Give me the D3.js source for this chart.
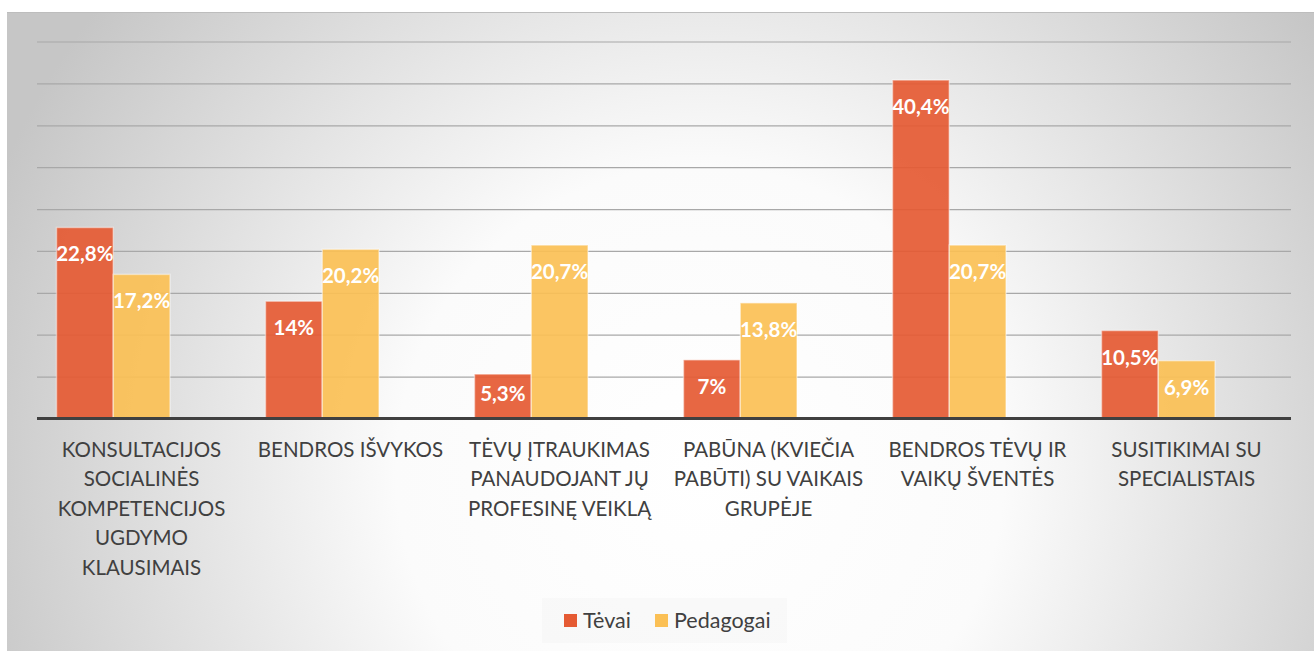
<!DOCTYPE html>
<html>
<head>
<meta charset="utf-8">
<script src="https://cdn.jsdelivr.net/npm/d3@7"></script>
<style>
  body { margin: 0; background: #fff; }
  svg { display: block; }
</style>
</head>
<body>
<div id="chart"></div>
<script>
// Data
const categories = [
  "KONSULTACIJOS\nSOCIALINĖS\nKOMPETENCIJOS\nUGDYMO\nKLAUSIMAIS",
  "BENDROS IŠVYKOS",
  "TĖVŲ ĮTRAUKIMAS\nPANAUDOJANT JŲ\nPROFESINĘ VEIKLĄ",
  "PABŪNA (KVIEČIA\nPABŪTI) SU VAIKAIS\nGRUPĖJE",
  "BENDROS TĖVŲ IR\nVAIKŲ ŠVENTĖS",
  "SUSITIKIMAI SU\nSPECIALISTAIS"
];
const seriesNames = ["Tėvai", "Pedagogai"];
const tevai = [22.8, 14, 5.3, 7, 40.4, 10.5];
const pedagogai = [17.2, 20.2, 20.7, 13.8, 20.7, 6.9];
const valueLabels = {
  "Tėvai": ["22,8%", "14%", "5,3%", "7%", "40,4%", "10,5%"],
  "Pedagogai": ["17,2%", "20,2%", "20,7%", "13,8%", "20,7%", "6,9%"]
};
const colors = ["#E55A33", "#FBC055"];

const W = 1314, H = 651;
const plot = { left: 37, right: 1291, top: 41.5, bottom: 418.5 };

const svg = d3.select("#chart").append("svg")
  .attr("width", W)
  .attr("height", H);

// background gradient
const defs = svg.append("defs");
const grad = defs.append("radialGradient")
  .attr("id", "bg")
  .attr("gradientUnits", "userSpaceOnUse")
  .attr("cx", 700).attr("cy", 470).attr("r", 760);
grad.append("stop").attr("offset", 0).attr("stop-color", "#ffffff");
grad.append("stop").attr("offset", 0.4).attr("stop-color", "#fbfbfb");
grad.append("stop").attr("offset", 1).attr("stop-color", "#c6c6c6");

svg.append("rect")
  .attr("x", 7).attr("y", 12)
  .attr("width", W - 7).attr("height", H - 12)
  .attr("fill", "url(#bg)");
svg.append("line")
  .attr("x1", 7).attr("x2", W).attr("y1", 12.5).attr("y2", 12.5)
  .attr("stroke", "#bdbdbd").attr("stroke-width", 1);

// scales
const x0 = d3.scaleBand()
  .domain(d3.range(categories.length))
  .range([plot.left, plot.right]);

const x1 = d3.scaleBand()
  .domain(seriesNames)
  .range([19.5, 133]);

const y = d3.scaleLinear()
  .domain([0, 45])
  .range([plot.bottom, plot.top]);

// gridlines
svg.append("g")
  .attr("transform", `translate(${plot.left},0)`)
  .call(d3.axisLeft(y).tickValues(d3.range(5, 46, 5)).tickSize(-(plot.right - plot.left)).tickFormat(""))
  .call(g => g.select(".domain").remove())
  .call(g => g.selectAll("line").attr("stroke", "#a8a8a8").attr("stroke-width", 1.2));

// bars
const rows = categories.map((c, i) => ({
  i: i,
  values: [
    { key: "Tėvai", v: tevai[i], label: valueLabels["Tėvai"][i] },
    { key: "Pedagogai", v: pedagogai[i], label: valueLabels["Pedagogai"][i] }
  ]
}));

const groups = svg.append("g").selectAll("g")
  .data(rows)
  .join("g")
  .attr("transform", d => `translate(${x0(d.i)},0)`);

groups.selectAll("rect")
  .data(d => d.values)
  .join("rect")
  .attr("x", d => x1(d.key))
  .attr("y", d => y(d.v))
  .attr("width", x1.bandwidth())
  .attr("height", d => y(0) - y(d.v))
  .attr("fill", (d, j) => colors[j])
  .attr("fill-opacity", 0.92)
  .attr("stroke", "#ffffff")
  .attr("stroke-opacity", 0.45)
  .attr("stroke-width", 1.5);

groups.selectAll("text")
  .data(d => d.values)
  .join("text")
  .attr("x", d => x1(d.key) + x1.bandwidth() / 2)
  .attr("y", d => Math.min(y(d.v) + 34, y(0) - 18))
  .attr("text-anchor", "middle")
  .attr("font-family", "Lato, sans-serif")
  .attr("font-weight", "bold")
  .attr("font-size", 20.5)
  .attr("fill", "#ffffff")
  .text(d => d.label);

// baseline
svg.append("line")
  .attr("x1", plot.left).attr("x2", plot.right)
  .attr("y1", y(0)).attr("y2", y(0))
  .attr("stroke", "#404040").attr("stroke-width", 3);

// category labels
const catLabels = svg.append("g").selectAll("text")
  .data(categories)
  .join("text")
  .attr("x", (d, i) => x0(i) + x0.bandwidth() / 2)
  .attr("y", 456.5)
  .attr("text-anchor", "middle")
  .attr("font-family", "Lato, sans-serif")
  .attr("font-size", 20.5)
  .attr("fill", "#404040");

catLabels.each(function (d) {
  const t = d3.select(this);
  d.split("\n").forEach((line, k) => {
    t.append("tspan")
      .attr("x", t.attr("x"))
      .attr("dy", k === 0 ? 0 : 29.6)
      .text(line);
  });
});

// legend
const legend = svg.append("g");
legend.append("rect")
  .attr("x", 542).attr("y", 598).attr("width", 245).attr("height", 45)
  .attr("fill", "#f0f0f0").attr("fill-opacity", 0.35);

const legendPos = [564, 655];
seriesNames.forEach((name, j) => {
  legend.append("rect")
    .attr("x", legendPos[j]).attr("y", 614)
    .attr("width", 13).attr("height", 13)
    .attr("fill", colors[j]);
  legend.append("text")
    .attr("x", legendPos[j] + 19).attr("y", 627.5)
    .attr("font-family", "Lato, sans-serif")
    .attr("font-size", 21.5)
    .attr("fill", "#404040")
    .text(name);
});
</script>
</body>
</html>
